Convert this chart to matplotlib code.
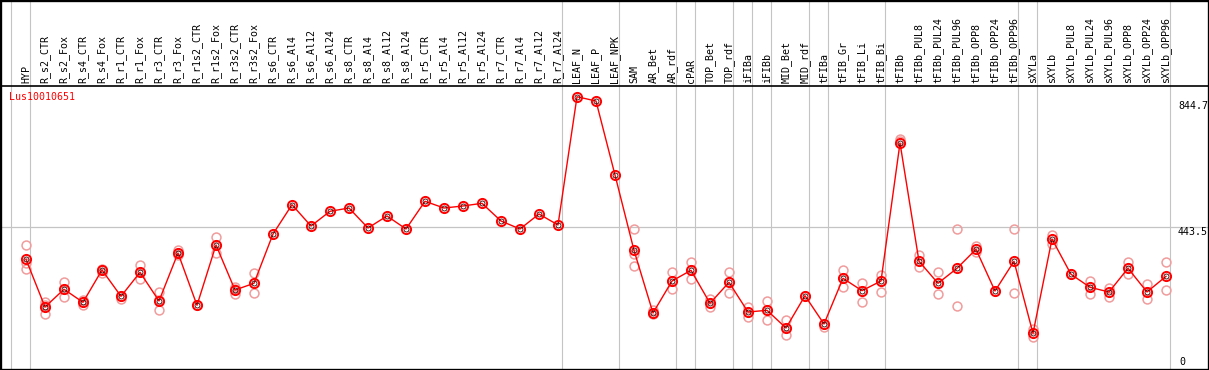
import matplotlib
matplotlib.use("Agg")
import matplotlib.pyplot as plt
from matplotlib.lines import Line2D
from matplotlib.patches import Rectangle

gene = "Lus10010651"
samples = ["HYP", "R_s2_CTR", "R_s2_Fox", "R_s4_CTR", "R_s4_Fox", "R_r1_CTR", "R_r1_Fox",
           "R_r3_CTR", "R_r3_Fox", "R_r1s2_CTR", "R_r1s2_Fox", "R_r3s2_CTR", "R_r3s2_Fox",
           "R_s6_CTR", "R_s6_Al4", "R_s6_Al12", "R_s6_Al24", "R_s8_CTR", "R_s8_Al4", "R_s8_Al12",
           "R_s8_Al24", "R_r5_CTR", "R_r5_Al4", "R_r5_Al12", "R_r5_Al24", "R_r7_CTR", "R_r7_Al4",
           "R_r7_Al12", "R_r7_Al24", "LEAF_N", "LEAF_P", "LEAF_NPK", "SAM", "AR_Bet", "AR_rdf",
           "cPAR", "TOP_Bet", "TOP_rdf", "iFIBa", "iFIBb", "MID_Bet", "MID_rdf", "tFIBa",
           "tFIB_Gr", "tFIB_Li", "tFIB_Bi", "tFIBb", "tFIBb_PUL8", "tFIBb_PUL24", "tFIBb_PUL96",
           "tFIBb_OPP8", "tFIBb_OPP24", "tFIBb_OPP96", "sXYLa", "sXYLb", "sXYLb_PUL8",
           "sXYLb_PUL24", "sXYLb_PUL96", "sXYLb_OPP8", "sXYLb_OPP24", "sXYLb_OPP96"]

means = [345.8, 199.4, 253.8, 213.9, 313.0, 232.3, 305.9, 217.9, 365.1, 204.7, 389.7, 251.6,
         272.2, 423.4, 513.3, 448.0, 493.1, 503.2, 441.9, 478.7, 438.8, 523.8, 503.2, 509.4,
         517.6, 463.3, 438.8, 484.8, 451.1, 844.7, 831.5, 604.5, 373.4, 181.0, 279.2, 312.1,
         210.8, 275.2, 184.1, 189.3, 135.0, 234.1, 147.3, 287.5, 249.5, 279.2, 702.7, 339.7,
         272.2, 318.2, 376.5, 248.5, 339.7, 118.7, 408.1, 299.8, 259.9, 245.5, 318.2, 245.5,
         293.6]

replicates = [
    [388.4, 333.5, 317.0], [214.8, 178.9, 204.7], [276.2, 231.1, 253.8], [220.9, 204.7, 216.0],
    [315.1, 302.9, 313.0], [234.1, 223.1, 232.3], [327.4, 284.4, 305.9], [244.6, 189.3, 219.4],
    [374.3, 359.0, 365.1], [204.7], [414.2, 364.2, 390.6], [259.9, 238.4, 254.7],
    [302.9, 241.5, 272.2], [], [], [], [], [], [], [], [], [], [], [], [], [], [], [], [],
    [], [], [], [437.9, 361.2, 325.3], [189.3, 177.0, 181.0], [305.9, 253.8, 279.2],
    [337.5, 284.4, 312.1], [223.1, 198.5, 210.8], [305.9, 241.5, 275.2], [198.5, 167.8, 184.1],
    [217.9, 158.6, 189.3], [158.6, 112.6, 135.0], [234.1], [147.3, 139.0],
    [312.1, 261.7, 287.5], [273.1, 215.7, 249.5], [297.6, 244.6, 279.2], [716.4, 707.3],
    [359.0, 322.2], [306.8, 238.4], [438.8, 201.6], [385.7, 367.3], [248.5],
    [438.8, 241.5], [131.0, 108.3], [421.3, 393.7], [299.8], [279.2, 238.4],
    [256.8, 229.2], [337.5, 300.7], [269.1, 223.1], [336.6, 250.7]]

group_starts = [0, 1, 29, 32, 35, 36, 38, 39, 40, 42, 43, 46, 53, 54, 61]
y_max_label = "844.7"
y_mid = 443.5
y_mid_label = "443.5"
y_min_label = "0"

W, H = 1209, 370
fig = plt.figure(figsize=(W / 100, H / 100), dpi=100)
fig.patch.set_facecolor("white")

# plot area: from pixel row 86 down to the bottom
top_px = 86
ax = fig.add_axes([0, 0, 1, (H - top_px) / H])
x0, dx = 26, 19
ax.set_xlim(-x0 / dx, (W - x0) / dx)
scale = 0.3259
zero_px = 372
ax.set_ylim((zero_px - H) / scale, (zero_px - top_px) / scale)
ax.set_axis_off()

mono = "DejaVu Sans Mono"
fs = 7.2
gray = "#c4c4c4"
pink = "#f09c9c"

# gray separators spanning the full height
ext = H / (H - top_px)
for g in group_starts:
    ax.axvline(g - 0.805, ymin=0, ymax=ext, color=gray, lw=0.8, clip_on=False, zorder=1)
ax.axhline(y_mid, color=gray, lw=0.9, zorder=1)

xs = list(range(len(samples)))
# replicates
for i, reps in enumerate(replicates):
    if reps:
        ax.plot([i] * len(reps), reps, linestyle="none", marker="o", ms=6.4,
                mfc="none", mec=pink, mew=1.1, zorder=2)
ax.plot(xs, means, color="red", lw=1.0, zorder=3)
ax.plot(xs, means, linestyle="none", marker="o", ms=6.6, mfc="none", mec="red", mew=1.4, zorder=4)
ax.plot(xs, means, linestyle="none", marker="o", ms=3.6, mfc="none", mec="#300000", mew=0.6, zorder=5)

# column labels
lab_y = (H - 83) / (H - top_px)
for i, s in enumerate(samples):
    ax.text(i, lab_y, s, rotation=90, ha="center", va="bottom", fontsize=fs,
            family=mono, transform=ax.get_xaxis_transform(), clip_on=False)

# gene name and value labels
fig.text(9 / W, 1 - 97 / H, gene, color="red", fontsize=fs, family=mono, va="center", ha="left")
fig.text(1178 / W, 1 - 106 / H, y_max_label, fontsize=fs, family=mono, va="center", ha="left")
fig.text(1178 / W, 1 - 232 / H, y_mid_label, fontsize=fs, family=mono, va="center", ha="left")
fig.text(1179 / W, 1 - 362 / H, y_min_label, fontsize=fs, family=mono, va="center", ha="left")

# frame and header separator
fig.add_artist(Line2D([0, 1], [1 - 85.7 / H] * 2, color="black", lw=1.2, transform=fig.transFigure))
fig.add_artist(Rectangle((0, 0), 1, 1, fill=False, edgecolor="black", lw=2.4,
                         transform=fig.transFigure))

fig.savefig("out.png", dpi=100)
